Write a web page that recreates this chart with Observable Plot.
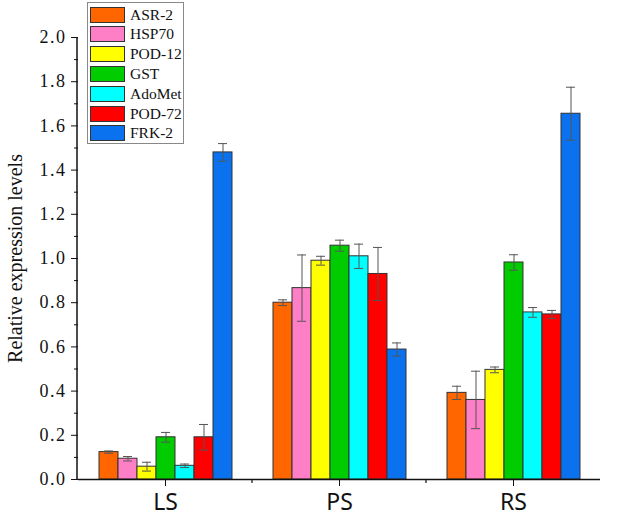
<!DOCTYPE html>
<html><head><meta charset="utf-8">
<script src="https://cdn.jsdelivr.net/npm/d3@7"></script>
<script src="https://cdn.jsdelivr.net/npm/@observablehq/plot@0.6"></script>
<style>
body{margin:0;background:#fff}
#wrap{position:relative;width:633px;height:521px;overflow:hidden}
.legend{position:absolute;left:87px;top:2px;width:97px;height:142px;border:1px solid #888;box-sizing:border-box;background:#fff;font-family:"Liberation Serif",serif;font-size:15.5px;color:#111}
.row{position:absolute;left:2px;width:94px;height:17px;display:flex;align-items:center;white-space:nowrap}
.sw{flex:none;width:35px;height:16px;border:1px solid #333;box-sizing:border-box;margin-right:5px}
</style>
</head><body>
<div id="wrap"></div>
<script>
const categories = ["LS", "PS", "RS"];
const genes = ["ASR-2", "HSP70", "POD-12", "GST", "AdoMet", "POD-72", "FRK-2"];
const colors = ["#FF6600", "#FF7FC6", "#FFFF00", "#00CC00", "#00FFFF", "#FF0000", "#0A72EE"];
const lsMean = [0.124, 0.094, 0.058, 0.191, 0.062, 0.191, 1.48];
const lsErr  = [0.005, 0.010, 0.020, 0.022, 0.008, 0.058, 0.04];
const psMean = [0.800, 0.866, 0.990, 1.058, 1.010, 0.930, 0.588];
const psErr  = [0.013, 0.150, 0.020, 0.025, 0.055, 0.120, 0.030];
const rsMean = [0.392, 0.360, 0.496, 0.982, 0.756, 0.747, 1.655];
const rsErr  = [0.030, 0.130, 0.013, 0.035, 0.022, 0.018, 0.120];
const yTicks = [0, 0.2, 0.4, 0.6, 0.8, 1.0, 1.2, 1.4, 1.6, 1.8, 2.0];
const yMinor = [0.1, 0.3, 0.5, 0.7, 0.9, 1.1, 1.3, 1.5, 1.7, 1.9];
const yLabel = "Relative expression levels";

const means = [lsMean, psMean, rsMean];
const errs = [lsErr, psErr, rsErr];
const data = [];
categories.forEach((c, ci) => genes.forEach((g, gi) =>
  data.push({cat: c, gene: g, mean: means[ci][gi], err: errs[ci][gi]})));

const plot = Plot.plot({
  width: 633, height: 521,
  marginLeft: 77, marginRight: 33, marginTop: 37, marginBottom: 42,
  style: {background: "transparent", fontFamily: "Liberation Serif", color: "#111"},
  fx: {domain: categories, padding: 0, label: null},
  x: {domain: genes, paddingInner: 0, paddingOuter: 0.88, axis: null},
  y: {domain: [0, 2], label: null, axis: null},
  color: {domain: genes, range: colors},
  marks: [
    Plot.barY(data, {fx: "cat", x: "gene", y: "mean", fill: "gene", stroke: "#333", strokeWidth: 1}),
    Plot.ruleX(data, {fx: "cat", x: "gene", y1: d => d.mean - d.err, y2: d => d.mean + d.err, stroke: "#555", strokeWidth: 1}),
    Plot.tickY(data, {fx: "cat", x: "gene", y: d => d.mean + d.err, stroke: "#555", strokeWidth: 1, insetLeft: 5, insetRight: 5}),
    Plot.tickY(data, {fx: "cat", x: "gene", y: d => d.mean - d.err, stroke: "#555", strokeWidth: 1, insetLeft: 5, insetRight: 5}),
    Plot.ruleY([0], {stroke: "#111", strokeWidth: 1.5}),
    Plot.axisY({ticks: yTicks, tickFormat: d => d.toFixed(1), tickSize: 7, tickPadding: 5, fontSize: 18, label: null, stroke: "#111"}),
    Plot.axisY({ticks: yMinor, tickFormat: () => "", tickSize: 4, label: null, stroke: "#111"}),
    Plot.axisY({ticks: [], label: yLabel, labelAnchor: "center", labelArrow: "none", labelOffset: 71, fontSize: 20}),
    Plot.axisFx({anchor: "bottom", tickSize: 7, tickPadding: 7, fontSize: 23, fontFamily: "Noto Sans", label: null, stroke: "#111"})
  ]
});

document.getElementById("wrap").appendChild(plot);

// spread the y tick labels a little, as in the reference typeface
d3.select(plot).selectAll('g[aria-label="y-axis tick label"] text').style("letter-spacing", "1.5px");

// extra axis decorations drawn with the plot's own scales
const fx = plot.scale("fx");
const y = plot.scale("y");
const svg = d3.select(plot);
const x0 = fx.range[0];
const yb = y.apply(0);
svg.append("line").attr("x1", x0).attr("x2", x0).attr("y1", y.apply(0)).attr("y2", y.apply(2))
  .attr("stroke", "#111").attr("stroke-width", 1.5);
categories.slice(1).forEach(c => {
  const bx = fx.apply(c);
  svg.append("line").attr("x1", bx).attr("x2", bx).attr("y1", yb).attr("y2", yb + 4)
    .attr("stroke", "#111").attr("stroke-width", 1.2);
});

// legend
const legend = document.createElement("div");
legend.className = "legend";
genes.forEach((g, i) => {
  const row = document.createElement("div");
  row.className = "row";
  row.style.top = (3 + i * 19.8) + "px";
  const sw = document.createElement("div");
  sw.className = "sw";
  sw.style.background = colors[i];
  const t = document.createElement("span");
  t.textContent = g;
  row.appendChild(sw); row.appendChild(t);
  legend.appendChild(row);
});
document.getElementById("wrap").appendChild(legend);
</script>
</body></html>
